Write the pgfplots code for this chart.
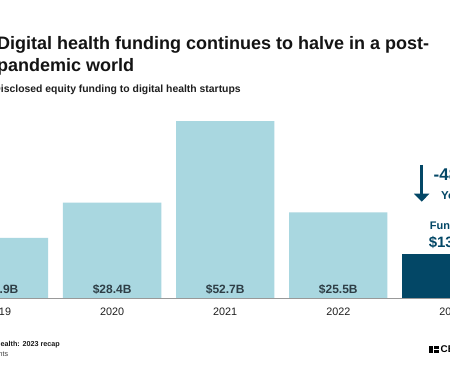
\documentclass[border=0pt]{standalone}
\usepackage{pgfplots}
\pgfplotsset{compat=1.18}
\usetikzlibrary{arrows.meta}
\usepackage{fontspec}
\setmainfont{Liberation Sans}
\definecolor{lightbar}{HTML}{A9D7E0}
\definecolor{darkbar}{HTML}{034766}
\definecolor{lbl}{HTML}{2E3E46}
\newcommand{\fs}[1]{\fontsize{#1pt}{#1pt}\selectfont}
\begin{document}
\begin{tikzpicture}[x=1pt,y=1pt]
\useasboundingbox (0,0) rectangle (450,375);
\clip (0,0) rectangle (450,375);
\fill[white] (0,0) rectangle (450,375);
% titles
\node[anchor=base west, inner sep=0, text=black!92] at (-3,325) {\fs{18}\bfseries Digital health funding continues to halve in a post-};
\node[anchor=base west, inner sep=0, text=black!92] at (-3,303.3) {\fs{18}\bfseries pandemic world};
\node[anchor=base west, inner sep=0, text=black!88] at (-6.8,282.3) {\fs{10.4}\bfseries Disclosed equity funding to digital health startups};
\begin{axis}[at={(-57.55pt,77pt)}, anchor=south west, scale only axis,
  width=565.5pt, height=201.5pt, xmin=-0.5, xmax=4.5, ymin=0, ymax=60,
  axis y line=none, axis x line*=bottom,
  x axis line style={draw=black!40, line width=0.8pt, -},
  xtick={0,1,2,3,4}, xticklabels={2019,2020,2021,2022,2023},
  major tick length=0,
  x tick label style={font=\fs{10.8}, text=black!88, yshift=-6.8pt},
  ybar, bar width=98.3pt, bar shift=0pt, clip=false]
\addplot[fill=lightbar, draw=none] coordinates {(0,17.9) (1,28.4) (2,52.7) (3,25.5)};
\addplot[fill=darkbar, draw=none] coordinates {(4,13.2)};
\addplot[draw=none, fill=none, nodes near coords, point meta=explicit symbolic,
  nodes near coords style={anchor=south, font=\fs{12}\bfseries, text=lbl}]
  coordinates {(0,0)[\$17.9B] (1,0)[\$28.4B] (2,0)[\$52.7B] (3,0)[\$25.5B]};
\end{axis}
% annotation
\draw[darkbar, line width=3.3pt, -{Triangle[width=15pt,length=8pt]}] (421.7,210) -- (421.7,173.3);
\node[anchor=base, inner sep=0, text=darkbar] at (453.5,194) {\fs{17}\bfseries -48\%};
\node[anchor=base, inner sep=0, text=darkbar] at (452,175) {\fs{11.5}\bfseries YoY};
\node[anchor=base, inner sep=0, text=darkbar] at (451.5,145) {\fs{11}\bfseries Funding};
\node[anchor=base, inner sep=0, text=darkbar] at (453,127) {\fs{15}\bfseries \$13.2B};
% footer
\node[anchor=base east, inner sep=0, text=black!90] at (60,28.3) {\fs{7.2}\bfseries Source: CB Insights --- State of Digital Health: 2023 recap};
\node[anchor=base east, inner sep=0, text=black!75] at (8.5,19) {\fs{7.2} Note: Includes disclosed equity investments};
% logo
\fill[black] (429,22.3) rectangle (439,29);
\fill[white] (433.2,22.3) rectangle (434.0,29);
\fill[white] (434,25.3) rectangle (439,26.1);
\node[anchor=base west, inner sep=0, text=black] at (440.5,22.3) {\fs{9.8}\bfseries CB INSIGHTS};
\end{tikzpicture}
\end{document}
